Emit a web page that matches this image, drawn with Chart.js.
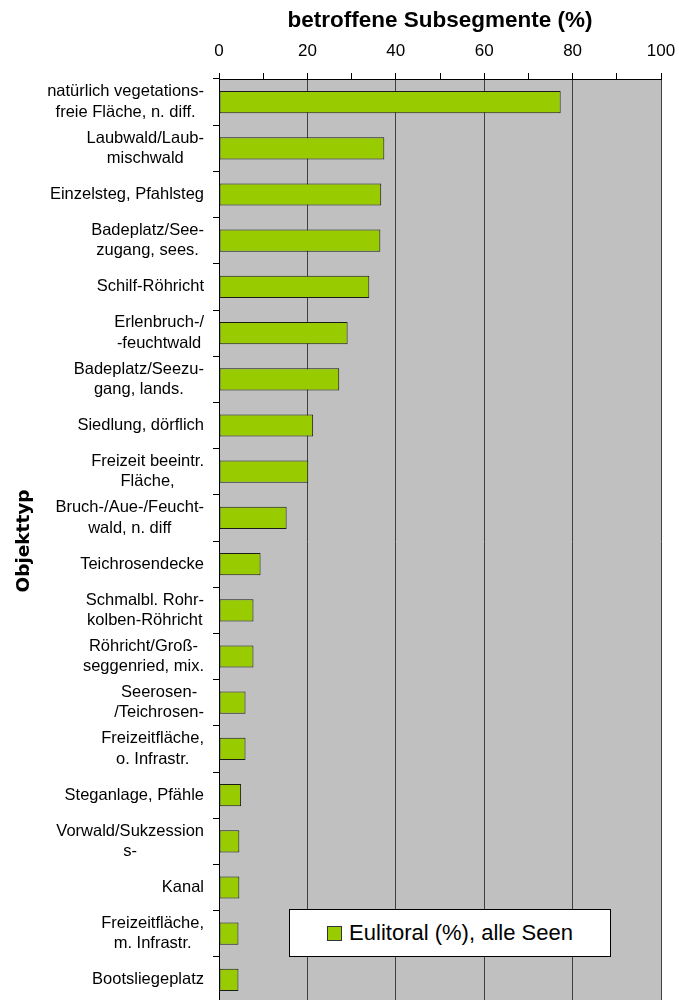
<!DOCTYPE html>
<html lang="de">
<head>
<meta charset="utf-8">
<title>Objekttyp – betroffene Subsegmente</title>
<script src="https://cdn.jsdelivr.net/npm/chart.js@4.4.1/dist/chart.umd.min.js"></script>
<style>
  html, body { margin: 0; padding: 0; background: #fff; overflow: hidden; }
  #wrap { position: relative; width: 679px; height: 1005px; }
  #legend {
    position: absolute; left: 289px; top: 909px; width: 320px; height: 46px;
    border: 1px solid #000; background: #fff;
    display: flex; align-items: center; justify-content: center;
    font-family: "Liberation Sans", Arial, sans-serif; font-size: 22px; color: #000;
  }
  #legend .box { width: 13px; height: 13px; background: #99cc00; border: 1px solid #333; margin-right: 7px; }
</style>
</head>
<body>
<div id="wrap">
  <canvas id="chart" width="679" height="1005"></canvas>
  <div id="legend"></div>
</div>
<script>
// Kategorien (mehrzeilig wie im Original)
const categories = [
  ['natürlich vegetations-', 'freie Fläche, n. diff.'],
  ['Laubwald/Laub-', 'mischwald'],
  ['Einzelsteg, Pfahlsteg'],
  ['Badeplatz/See-', 'zugang, sees.'],
  ['Schilf-Röhricht'],
  ['Erlenbruch-/', '-feuchtwald'],
  ['Badeplatz/Seezu-', 'gang, lands.'],
  ['Siedlung, dörflich'],
  ['Freizeit beeintr.', 'Fläche,'],
  ['Bruch-/Aue-/Feucht-', 'wald, n. diff'],
  ['Teichrosendecke'],
  ['Schmalbl. Rohr-', 'kolben-Röhricht'],
  ['Röhricht/Groß-', 'seggenried, mix.'],
  ['Seerosen-', '/Teichrosen-'],
  ['Freizeitfläche,', 'o. Infrastr.'],
  ['Steganlage, Pfähle'],
  ['Vorwald/Sukzession', 's-'],
  ['Kanal'],
  ['Freizeitfläche,', 'm. Infrastr.'],
  ['Bootsliegeplatz']
];

// Eulitoral (%), alle Seen
const eulitoral = [77.3, 37.4, 36.7, 36.5, 34.0, 29.1, 27.2, 21.3, 20.2, 15.3,
                   9.4, 7.8, 7.8, 6.0, 6.0, 5.0, 4.6, 4.6, 4.4, 4.4];

const seriesLabel = 'Eulitoral (%), alle Seen';
const xTicks = [0, 20, 40, 60, 80, 100];

Chart.defaults.font.family = '"Liberation Sans", Arial, sans-serif';
Chart.defaults.color = '#000';

// grauer Plothintergrund
const plotBg = {
  id: 'plotBg',
  beforeDraw(chart) {
    const { ctx, chartArea: a } = chart;
    ctx.save();
    ctx.fillStyle = '#c0c0c0';
    ctx.fillRect(a.left, a.top, a.right - a.left, a.bottom - a.top);
    ctx.restore();
  }
};

// Kategorienbeschriftung: Block rechtsbündig, Zeilen zentriert (wie Excel)
const catLabels = {
  id: 'catLabels',
  afterDraw(chart) {
    const { ctx } = chart;
    const y = chart.scales.y;
    ctx.save();
    ctx.font = '16.5px "Liberation Sans", Arial, sans-serif';
    ctx.fillStyle = '#000';
    ctx.textAlign = 'center';
    ctx.textBaseline = 'middle';
    const right = 204, lh = 20.5;
    categories.forEach((lines, i) => {
      const yc = y.getPixelForTick(i);
      const w = Math.max(...lines.map(l => ctx.measureText(l).width));
      const cx = right - w / 2;
      lines.forEach((l, j) => {
        ctx.fillText(l, cx, yc + (j - (lines.length - 1) / 2) * lh);
      });
    });
    ctx.restore();
  }
};

const chart = new Chart(document.getElementById('chart'), {
  type: 'bar',
  data: {
    labels: categories,
    datasets: [{
      label: seriesLabel,
      data: eulitoral,
      backgroundColor: '#99cc00',
      borderColor: '#1a1a1a',
      borderWidth: 1,
      borderSkipped: false,
      barPercentage: 0.48,
      categoryPercentage: 1
    }]
  },
  options: {
    indexAxis: 'y',
    responsive: false,
    animation: false,
    events: [],
    layout: { padding: { top: 0, right: 18, bottom: 2, left: 0 } },
    plugins: {
      legend: { display: false },
      tooltip: { enabled: false }
    },
    scales: {
      x: {
        position: 'top',
        min: 0,
        max: 100,
        afterFit(s) {
          s.height = 79;
          s.paddingLeft = 0;
          s.paddingRight = 0;
        },
        ticks: {
          stepSize: 10,
          padding: 11,
          font: { size: 17 },
          color: '#000',
          callback: v => (xTicks.includes(v) ? v : '')
        },
        grid: {
          color: c => (c.tick && c.tick.value % 20 === 0 ? '#404040' : 'rgba(0,0,0,0)'),
          tickColor: '#000',
          tickLength: 6,
          lineWidth: 1
        },
        border: { color: '#000', width: 1 },
        title: {
          display: true,
          text: 'betroffene Subsegmente (%)',
          font: { size: 22.5, weight: 'bold' },
          color: '#000',
          padding: { top: 7, bottom: 0 }
        }
      },
      y: {
        afterFit(s) {
          s.width = 219;
          s.paddingTop = 0;
          s.paddingBottom = 0;
        },
        ticks: { color: 'rgba(0,0,0,0)', font: { size: 16.5 } },
        grid: {
          drawOnChartArea: false,
          offset: true,
          tickLength: 6,
          color: '#000',
          tickColor: '#000'
        },
        border: { color: '#000', width: 1 },
        title: {
          display: true,
          text: 'Objekttyp',
          font: { family: '"DejaVu Sans", sans-serif', size: 18.5, weight: 'bold' },
          color: '#000',
          padding: { top: 13, bottom: 0 }
        }
      }
    }
  },
  plugins: [plotBg, catLabels]
});

// HTML-Legende aus dem Datensatz
const ds = chart.data.datasets[0];
document.getElementById('legend').innerHTML =
  `<span class="box"></span><span>${ds.label}</span>`;
</script>
</body>
</html>
